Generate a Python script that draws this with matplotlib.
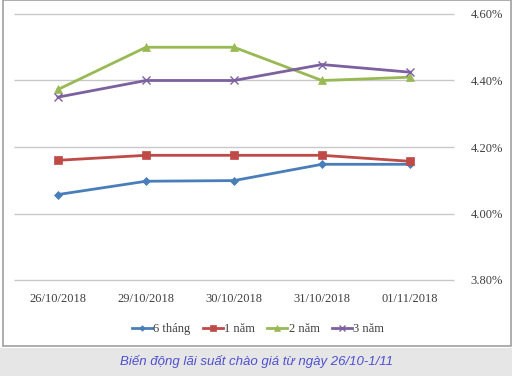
import matplotlib
matplotlib.use("Agg")
import matplotlib.pyplot as plt
from matplotlib.patches import Rectangle
from matplotlib.ticker import FuncFormatter

categories = ["26/10/2018", "29/10/2018", "30/10/2018", "31/10/2018", "01/11/2018"]
s6m = [4.057, 4.097, 4.099, 4.148, 4.148]
s1y = [4.16, 4.175, 4.175, 4.175, 4.157]
s2y = [4.373, 4.50, 4.50, 4.40, 4.41]
s3y = [4.35, 4.40, 4.40, 4.448, 4.425]
series_names = ["6 tháng", "1 năm", "2 năm", "3 năm"]
yticks = [3.80, 4.00, 4.20, 4.40, 4.60]
caption = "Biến động lãi suất chào giá từ ngày 26/10-1/11"

W, H = 512, 376
fig = plt.figure(figsize=(W/100, H/100), dpi=100)
fig.patch.set_facecolor("white")

# chart border
fig.patches.append(Rectangle((3/W, 30/H), (W-4)/W, (H-30)/H, transform=fig.transFigure,
                             fill=False, edgecolor="#A0A0A0", linewidth=1.2))
# caption bar
fig.patches.append(Rectangle((0, 0), 1, 28/H, transform=fig.transFigure,
                             facecolor="#E6E6E6", edgecolor="none"))
fig.text(0.5, 14/H, caption, ha="center", va="center", fontsize=9.5, style="italic",
         color="#4F4FD0", family="Liberation Sans")

x0, x1 = 14, 454
ytop, ybot = 14, 280
ax = fig.add_axes([x0/W, 1 - ybot/H, (x1-x0)/W, (ybot-ytop)/H])
ax.set_xlim(-0.5, 4.5)
ax.set_ylim(3.80, 4.60)
xs = list(range(len(categories)))

ax.hlines(yticks, -0.5, 4.5, colors="#C8C8C8", linewidth=1, clip_on=False, zorder=0)

styles = [
    (s6m, "#4A7EBB", "D", 4),
    (s1y, "#BE4B48", "s", 6),
    (s2y, "#98B954", "^", 6),
    (s3y, "#7D60A0", "x", 6),
]
for (vals, c, m, ms), name in zip(styles, series_names):
    ax.plot(xs, vals, color=c, marker=m, markersize=ms, linewidth=2, label=name,
            markeredgecolor=c, markeredgewidth=1 if m == "x" else 0.5, clip_on=False)

ax.set_yticks(yticks)
ax.yaxis.tick_right()
ax.yaxis.set_major_formatter(FuncFormatter(lambda v, p: f"{v:.2f}%"))
for sp in ax.spines.values():
    sp.set_visible(False)
ax.tick_params(axis="y", length=0, pad=12, labelsize=9, labelcolor="#404040")
ax.tick_params(axis="x", length=0, pad=9, labelsize=9, labelcolor="#404040")
ax.set_xticks(xs)
ax.set_xticklabels(categories)
for lab in ax.get_xticklabels() + ax.get_yticklabels():
    lab.set_family("Liberation Serif")

leg = fig.legend(loc="center", bbox_to_anchor=(258/W, 1 - 329/H), ncol=4, frameon=False,
                 prop={"family": "Liberation Serif", "size": 9}, handlelength=1.6,
                 handletextpad=0.1, columnspacing=1.0, markerscale=0.7)
for t in leg.get_texts():
    t.set_color("#404040")

fig.savefig("out.png", dpi=100)
